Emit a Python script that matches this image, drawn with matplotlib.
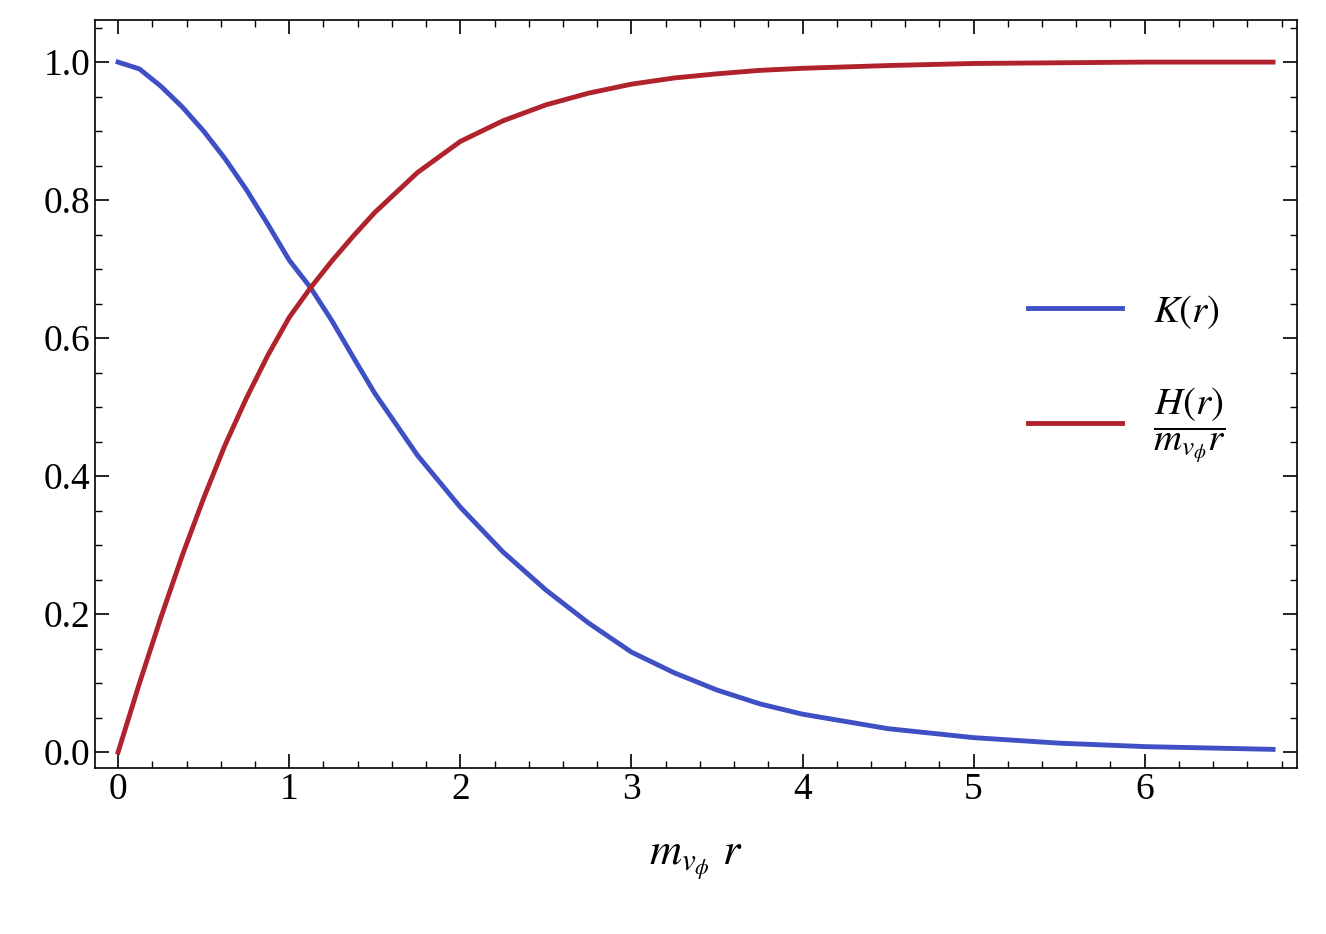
import matplotlib.pyplot as plt
import numpy as np

plt.rcParams['font.family'] = 'Liberation Serif'
plt.rcParams['mathtext.fontset'] = 'stix'

r = [0, 0.125, 0.25, 0.375, 0.5, 0.625, 0.75, 0.875, 1.0, 1.125, 1.25, 1.375, 1.5, 1.75, 2.0,
     2.25, 2.5, 2.75, 3.0, 3.25, 3.5, 3.75, 4.0, 4.5, 5.0, 5.5, 6.0, 6.75]
K = [1.0, 0.99, 0.965, 0.935, 0.9, 0.86, 0.815, 0.765, 0.713, 0.673, 0.625, 0.572, 0.52, 0.43, 0.355,
     0.29, 0.235, 0.187, 0.145, 0.115, 0.09, 0.07, 0.055, 0.034, 0.021, 0.013, 0.008, 0.004]
H = [0.0, 0.1, 0.195, 0.285, 0.368, 0.445, 0.513, 0.575, 0.63, 0.673, 0.712, 0.748, 0.782, 0.84, 0.885,
     0.915, 0.938, 0.955, 0.968, 0.977, 0.983, 0.988, 0.991, 0.995, 0.998, 0.999, 1.0, 1.0]

fig = plt.figure(figsize=(13.26, 9.34), dpi=100)
ax = fig.add_axes([95/1326, 1-768/934, (1297-95)/1326, (768-20)/934])

ax.plot(r, K, color='#3F4FC4', lw=3.5, label=r'$K(r)$')
ax.plot(r, H, color='#B0232C', lw=3.5, label=r'$\dfrac{H(r)}{m_{v_\phi} r}$')

ax.set_xlim(-0.135, 6.89)
ax.set_ylim(-0.023, 1.061)
ax.set_xticks(range(7))
ax.set_yticks([0, 0.2, 0.4, 0.6, 0.8, 1.0])
ax.set_yticklabels(['0.0', '0.2', '0.4', '0.6', '0.8', '1.0'])
ax.set_xticks(np.arange(0, 6.9, 0.2), minor=True)
ax.set_yticks(np.arange(0, 1.06, 0.05), minor=True)
ax.tick_params(which='both', direction='in', top=True, right=True, labelsize=27)
ax.tick_params(which='major', length=10, width=1.2)
ax.tick_params(which='minor', length=5, width=1)
for s in ax.spines.values():
    s.set_linewidth(1.2)

ax.set_xlabel(r'$m_{v_\phi}\ r$', fontsize=32, labelpad=25)
ax.legend(loc='center right', bbox_to_anchor=(0.97, 0.52), frameon=False,
          fontsize=28, handlelength=2.4, labelspacing=1.4)

fig.savefig('out.png', dpi=100)
